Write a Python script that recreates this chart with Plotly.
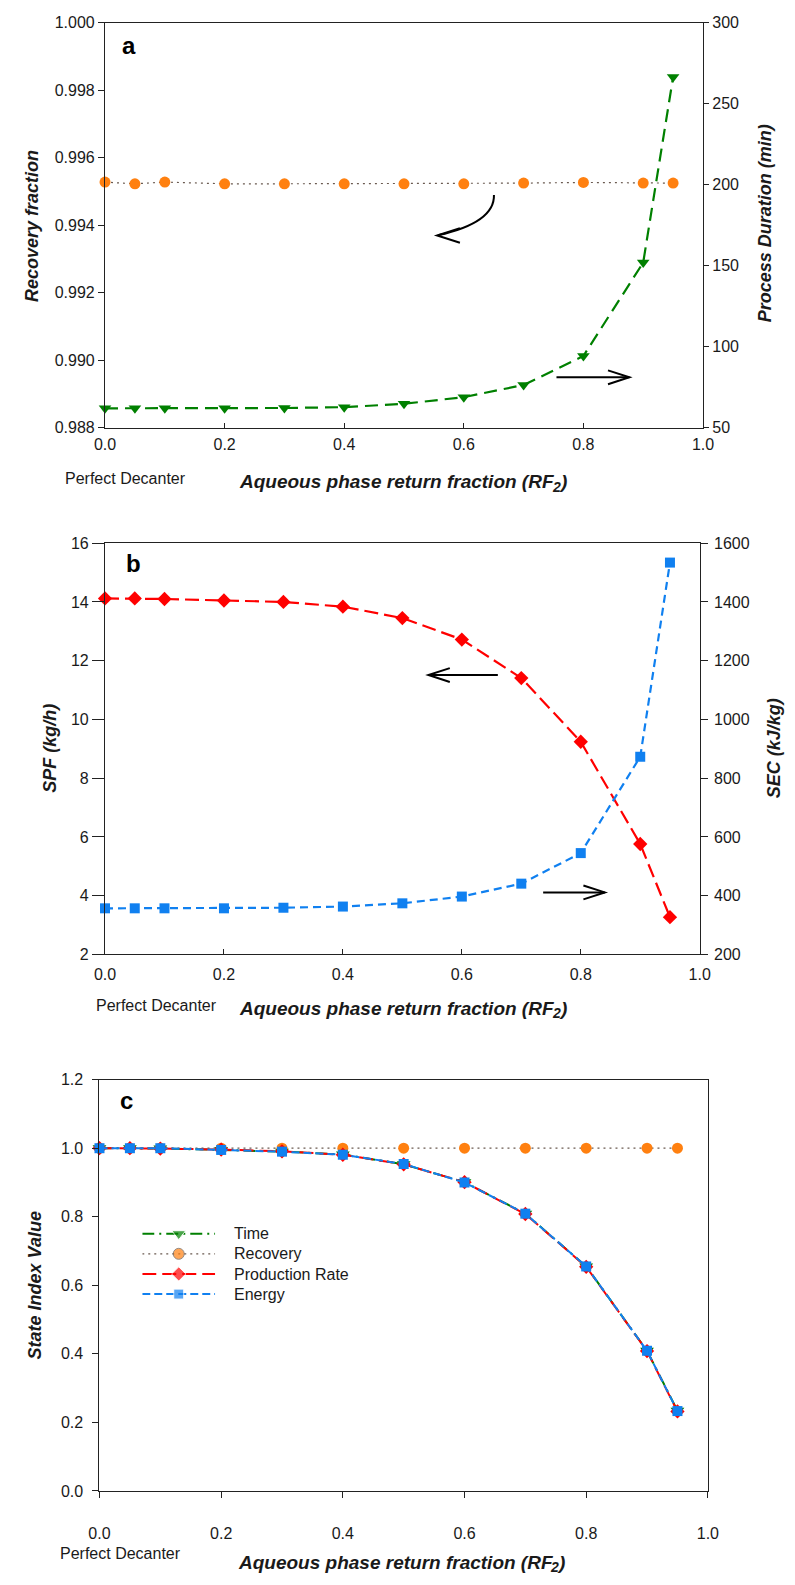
import plotly.graph_objects as go

# ---- data -------------------------------------------------------------
rf2 = [0.0, 0.05, 0.1, 0.2, 0.3, 0.4, 0.5, 0.6, 0.7, 0.8, 0.9, 0.95]

recovery_fraction = [0.99528, 0.99523, 0.99528, 0.99523, 0.99523, 0.99523,
                     0.99523, 0.99523, 0.99525, 0.99527, 0.99525, 0.99525]
process_duration = [62.0, 62.0, 62.0, 62.1, 62.2, 62.7,
                    64.8, 68.9, 76.4, 94.3, 152.0, 266.5]

spf = [14.12, 14.12, 14.10, 14.05, 14.00, 13.84,
       13.45, 12.72, 11.41, 9.24, 5.76, 3.27]
sec = [357, 357, 357, 357, 359, 363, 374, 397, 441, 545, 873, 1534]

idx_time = [1.0, 1.0, 0.999, 0.995, 0.990, 0.982,
            0.953, 0.901, 0.809, 0.655, 0.409, 0.234]
idx_recovery = [1.0, 1.0, 1.0, 1.0, 1.0, 1.0,
                1.0, 1.0, 1.0, 1.0, 1.0, 1.0]
idx_rate = [1.0, 1.0, 0.999, 0.996, 0.991, 0.981,
            0.953, 0.901, 0.808, 0.654, 0.408, 0.232]
idx_energy = [1.0, 1.0, 1.0, 0.995, 0.990, 0.981,
              0.954, 0.900, 0.809, 0.655, 0.409, 0.233]

legend_names = ["Time", "Recovery", "Production Rate", "Energy"]

# ---- styling ----------------------------------------------------------
W, H = 795, 1585
FONT = "Liberation Sans, Arial, sans-serif"
TXT = "#1a1a1a"
GREEN, ORANGE, RED, BLUE = "#008000", "#ff8010", "#ff0000", "#1080f0"
DOT = "#6a5a50"


def px(x):
    return x / W


def py(y):
    return 1 - y / H


fig = go.Figure()

# Panel a
fig.add_trace(go.Scatter(x=rf2, y=recovery_fraction, xaxis="x", yaxis="y",
                         mode="lines+markers", cliponaxis=False,
                         line=dict(color=DOT, width=1.2, dash="2px,4px"),
                         marker=dict(symbol="circle", size=11, color=ORANGE),
                         showlegend=False))
fig.add_trace(go.Scatter(x=rf2, y=process_duration, xaxis="x", yaxis="y2",
                         mode="lines+markers", cliponaxis=False,
                         line=dict(color=GREEN, width=2.2, dash="13px,7px"),
                         marker=dict(symbol="triangle-down", size=11, color=GREEN),
                         showlegend=False))

# Panel b
fig.add_trace(go.Scatter(x=rf2, y=spf, xaxis="x2", yaxis="y3",
                         mode="lines+markers", cliponaxis=False,
                         line=dict(color=RED, width=2.2, dash="14px,6px"),
                         marker=dict(symbol="diamond", size=11, color=RED),
                         showlegend=False))
fig.add_trace(go.Scatter(x=rf2, y=sec, xaxis="x2", yaxis="y4",
                         mode="lines+markers", cliponaxis=False,
                         line=dict(color=BLUE, width=2.2, dash="8px,5px"),
                         marker=dict(symbol="square", size=10, color=BLUE),
                         showlegend=False))

# Panel c
series_c = [
    (idx_time, dict(color=GREEN, width=2, dash="12px,5px,2px,5px"),
     dict(symbol="triangle-down", size=12, color=GREEN)),
    (idx_recovery, dict(color=DOT, width=1.2, dash="2px,4px"),
     dict(symbol="circle", size=11, color=ORANGE)),
    (idx_rate, dict(color=RED, width=2, dash="14px,6px"),
     dict(symbol="diamond", size=11, color=RED)),
    (idx_energy, dict(color=BLUE, width=2, dash="8px,4px"),
     dict(symbol="square", size=10, color=BLUE)),
]
for vals, ln, mk in series_c:
    fig.add_trace(go.Scatter(x=rf2, y=vals, xaxis="x3", yaxis="y5",
                             mode="lines+markers", cliponaxis=False,
                             line=ln, marker=mk, showlegend=False))

# Legend samples for panel c, drawn on a small helper axis
for k, (vals, ln, mk) in enumerate(series_c):
    fig.add_trace(go.Scatter(x=[0, 0.5, 1], y=[k, k, k], xaxis="x4", yaxis="y6",
                             mode="lines+markers", cliponaxis=False,
                             line=ln,
                             marker=dict(symbol=mk["symbol"], color=mk["color"],
                                         size=[0, mk["size"], 0]),
                             showlegend=False, hoverinfo="skip"))

tickfont = dict(family=FONT, size=16, color=TXT)
axis_common = dict(showline=True, linecolor="#222", linewidth=1.2,
                   showgrid=False, zeroline=False, tickfont=tickfont,
                   tickcolor="#222", tickwidth=1.2)

layout = dict(
    width=W, height=H, margin=dict(l=0, r=0, t=0, b=0),
    paper_bgcolor="white", plot_bgcolor="white",
    showlegend=False,
    # panel a
    xaxis=dict(domain=[px(96.7), px(711.7)], anchor="y", range=[0, 1],
               dtick=0.2, tick0=0, tickformat=".1f", ticks="inside", ticklen=5,
               mirror=True, ticklabelstandoff=2, **axis_common),
    yaxis=dict(domain=[py(424.3), py(15)], anchor="x", range=[0.988, 1.0],
               dtick=0.002, tick0=0.988, tickformat=".3f", ticks="outside",
               ticklen=6, **axis_common),
    yaxis2=dict(overlaying="y", side="right", anchor="x", range=[50, 300],
                dtick=50, tick0=50, ticks="outside", ticklen=5, **axis_common),
    # panel b
    xaxis2=dict(domain=[px(96.7), px(708.3)], anchor="y3", range=[0, 1],
                dtick=0.2, tick0=0, tickformat=".1f", ticks="inside", ticklen=5,
                mirror=True, ticklabelstandoff=5, **axis_common),
    yaxis3=dict(domain=[py(956.7), py(541)], anchor="x2", range=[2, 16],
                dtick=2, tick0=2, ticks="outside", ticklen=12, **axis_common),
    yaxis4=dict(overlaying="y3", side="right", anchor="x2", range=[200, 1600],
                dtick=200, tick0=200, ticks="outside", ticklen=7,
                ticklabelstandoff=3, **axis_common),
    # panel c
    xaxis3=dict(domain=[px(91), px(716.7)], anchor="y5", range=[0, 1],
                dtick=0.2, tick0=0, tickformat=".1f", ticks="outside", ticklen=6,
                mirror=True, ticklabelstandoff=22, **axis_common),
    yaxis5=dict(domain=[py(1499), py(1083.3)], anchor="x3", range=[0, 1.2],
                dtick=0.2, tick0=0, tickformat=".1f", ticks="outside", ticklen=6,
                mirror=True, ticklabelstandoff=6, **axis_common),
    # legend helper axis
    xaxis4=dict(domain=[px(135), px(210)], anchor="y6", range=[0, 1],
                visible=False, fixedrange=True),
    yaxis6=dict(domain=[py(1310.2), py(1228.8)], anchor="x4", range=[3.5, -0.5],
                visible=False, fixedrange=True),
)
fig.update_layout(**layout)

# ---- text -------------------------------------------------------------
ytitle_font = dict(family=FONT, size=18, color=TXT, weight="bold", style="italic")
xtitle_font = dict(family=FONT, size=19, color=TXT, weight="bold", style="italic")
sub_font = dict(family=FONT, size=14, color=TXT, weight="bold", style="italic")
plain_font = dict(family=FONT, size=16, color=TXT)
letter_font = dict(family=FONT, size=24, color="black", weight="bold")


def note(text, x, y, font, angle=0, xanchor="center", yshift=0):
    fig.add_annotation(text=text, x=px(x), y=py(y), xref="paper", yref="paper",
                       showarrow=False, font=font, textangle=angle,
                       xanchor=xanchor, yanchor="middle", yshift=yshift,
                       borderpad=0)


def x_title(x_end, y):
    # main text ends at x_end; the subscript "2" and ")" follow it
    note("Aqueous phase return fraction (RF", x_end, y, xtitle_font, xanchor="right")
    note("2", x_end - 6, y, sub_font, xanchor="left", yshift=-5)
    note(")", x_end + 2, y, xtitle_font, xanchor="left")


# panel a
note("a", 113, 38, letter_font, xanchor="left")
note("Recovery fraction", 21, 220, ytitle_font, angle=-90)
note("Process Duration (min)", 775, 218, ytitle_font, angle=-90)
note("Perfect Decanter", 55, 476, plain_font, xanchor="left")
x_title(561, 479)

# panel b
note("b", 117, 562, letter_font, xanchor="left")
note("SPF (kg/h)", 40, 748, ytitle_font, angle=-90)
note("SEC (kJ/kg)", 785, 748, ytitle_font, angle=-90)
note("Perfect Decanter", 86, 1008, plain_font, xanchor="left")
x_title(561, 1011)

# panel c
note("c", 111, 1104, letter_font, xanchor="left")
note("State Index Value", 25, 1291, ytitle_font, angle=-90)
note("Perfect Decanter", 49, 1562, plain_font, xanchor="left")
x_title(559, 1571)

for k, name in enumerate(legend_names):
    note(name, 228, 1239 + 20.4 * k, plain_font, xanchor="left")

# ---- direction arrows ----------------------------------------------------
def arrow_path(points):
    return "M " + " L ".join(f"{px(x)},{py(y)}" for x, y in points)


arrow_line = dict(color="black", width=2)

# curved arrow pointing to the left axis (panel a)
fig.add_shape(type="path", xref="paper", yref="paper", line=arrow_line,
              path=f"M {px(496.7)},{py(189)} Q {px(497.6)},{py(216.8)} {px(439)},{py(229.8)}")
fig.add_shape(type="path", xref="paper", yref="paper", line=arrow_line,
              path=arrow_path([(461.7, 222.7), (438.3, 230), (461.7, 237.3)]))

# straight arrows: start point and tip
straight = [
    ((561, 373.3), (636, 373.3)),
    ((500.7, 674.3), (429.3, 674.3)),
    ((547.3, 894), (610.7, 894)),
]
for (x0, y0), (x1, y1) in straight:
    d = -22 if x1 > x0 else 22
    fig.add_shape(type="path", xref="paper", yref="paper", line=arrow_line,
                  path=arrow_path([(x0, y0), (x1, y1)]))
    fig.add_shape(type="path", xref="paper", yref="paper", line=arrow_line,
                  path=arrow_path([(x1 + d, y1 - 7), (x1, y1), (x1 + d, y1 + 7)]))

fig.write_html("out.html")
